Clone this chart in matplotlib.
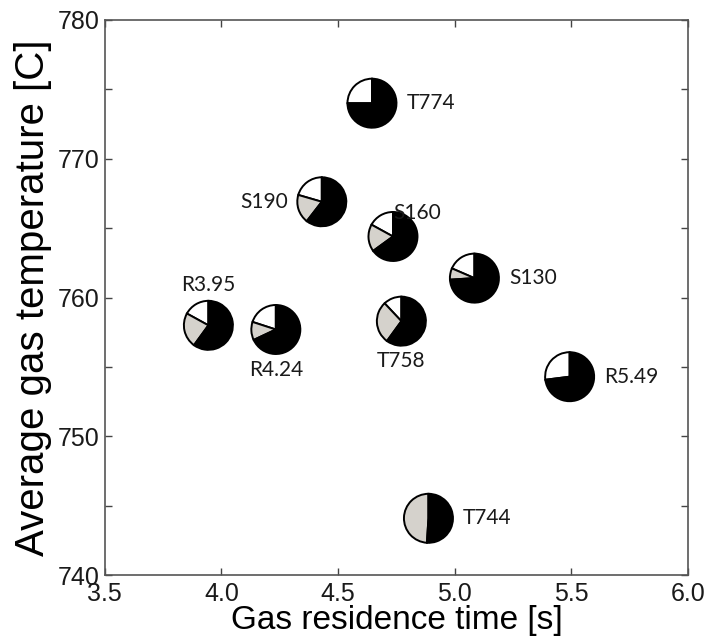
import matplotlib.pyplot as plt
from matplotlib.patches import Wedge
from matplotlib.ticker import MultipleLocator
from matplotlib.transforms import ScaledTranslation

# data: residence time, gas temperature, pie fractions (white, grey, black) in %
names = ['T774', 'S190', 'S160', 'S130', 'R3.95', 'R4.24', 'T758', 'R5.49', 'T744']
res_time = [4.645, 4.43, 4.735, 5.084, 3.944, 4.233, 4.771, 5.492, 4.887]
gas_temp = [774.0, 766.9, 764.4, 761.4, 758.0, 757.7, 758.3, 754.3, 744.1]
frac_white = [25, 20.5, 17, 18.5, 17, 20, 12, 27, 0]
frac_grey = [0, 19, 18, 7.5, 23, 12, 28, 0, 49]
frac_black = [75, 60.5, 65, 74, 60, 68, 60, 73, 51]

# where each label sits relative to its pie
label_side = ['right', 'left', 'upright', 'right', 'above', 'below', 'below', 'right', 'right']

colors = ['white', '#d5d2cc', 'black']
offsets = {'right': (25, 0, 'left'), 'left': (-24, 0, 'right'),
           'above': (0, 29, 'center'), 'below': (0, -29, 'center'),
           'upright': (0, 17, 'left')}

fig = plt.figure(figsize=(7.08, 6.42), dpi=100)
ax = fig.add_axes([0.148, 0.104, 0.824, 0.865])
ax.set_xlim(3.5, 6.0)
ax.set_ylim(740, 780)

r = 0.245  # pie radius in inches
for i in range(len(names)):
    trans = fig.dpi_scale_trans + ScaledTranslation(res_time[i], gas_temp[i], ax.transData)
    theta = 90.0
    for frac, c in zip([frac_white[i], frac_grey[i], frac_black[i]], colors):
        if frac <= 0:
            continue
        t2 = theta + frac / 100 * 360
        ax.add_patch(Wedge((0, 0), r, theta, t2, facecolor=c, edgecolor='black',
                           linewidth=1.4, transform=trans, zorder=3))
        theta = t2
    dx, dy, ha = offsets[label_side[i]]
    ax.annotate(names[i], (res_time[i], gas_temp[i]), xytext=(dx, dy),
                textcoords='offset points', ha=ha, va='center',
                fontsize=15, family='Lato', color='#1a1a1a')

ax.set_xticks([3.5, 4.0, 4.5, 5.0, 5.5, 6.0])
ax.set_xticklabels(['3.5', '4.0', '4.5', '5.0', '5.5', '6.0'])
ax.yaxis.set_major_locator(MultipleLocator(10))
ax.yaxis.set_minor_locator(MultipleLocator(5))
ax.tick_params(which='both', direction='in', top=True, right=True, length=5,
               width=1, color='#444444', labelsize=18, labelcolor='#1a1a1a', pad=4)
ax.tick_params(axis='x', pad=5)
for lab in ax.get_xticklabels() + ax.get_yticklabels():
    lab.set_family('Liberation Sans')
for s in ax.spines.values():
    s.set_color('#555555')
    s.set_linewidth(1.2)

ax.set_xlabel('Gas residence time [s]', fontsize=24, family='Liberation Sans', labelpad=-1)
ax.set_ylabel('Average gas temperature [C]', fontsize=29, family='Liberation Sans', labelpad=4)

fig.savefig('out.png', dpi=100)
